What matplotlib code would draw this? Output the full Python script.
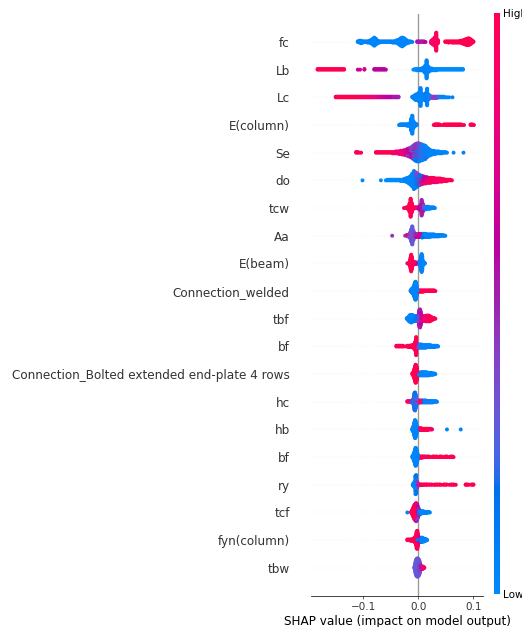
import numpy as np
import matplotlib
matplotlib.use("Agg")
import matplotlib.pyplot as plt
from matplotlib.colors import LinearSegmentedColormap

# Features from top (most important) to bottom
features = ["fc", "Lb", "Lc", "E(column)", "Se", "do", "tcw", "Aa", "E(beam)",
            "Connection_welded", "tbf", "bf", "Connection_Bolted extended end-plate 4 rows",
            "hc", "hb", "bf", "ry", "tcf", "fyn(column)", "tbw"]

# Each entry: (SHAP value, normalised feature value, number of samples)
pts_fc = [(-0.110, 0.05, 2), (-0.107, 0.05, 4), (-0.104, 0.05, 5), (-0.101, 0.05, 3), (-0.098, 0.05, 2),
          (-0.095, 0.05, 2), (-0.092, 0.05, 3), (-0.089, 0.05, 4), (-0.086, 0.05, 6), (-0.083, 0.05, 10),
          (-0.080, 0.05, 14), (-0.077, 0.05, 10), (-0.074, 0.05, 5), (-0.071, 0.05, 3), (-0.068, 0.05, 2),
          (-0.065, 0.05, 2), (-0.062, 0.05, 2), (-0.059, 0.05, 2), (-0.056, 0.05, 2), (-0.053, 0.05, 2),
          (-0.050, 0.05, 2), (-0.047, 0.05, 3), (-0.044, 0.05, 3), (-0.041, 0.05, 4), (-0.038, 0.05, 6),
          (-0.035, 0.05, 9), (-0.032, 0.05, 13), (-0.029, 0.05, 15), (-0.026, 0.05, 12), (-0.023, 0.05, 8),
          (-0.020, 0.05, 5), (-0.017, 0.05, 3), (-0.014, 0.05, 2), (-0.011, 0.05, 1),
          (-0.002, 0.55, 2), (0.001, 0.55, 2), (0.004, 0.55, 2), (0.007, 0.55, 2), (0.010, 0.55, 2), (0.013, 0.6, 1),
          (0.0235, 0.85, 5), (0.0265, 0.9, 9), (0.0295, 0.95, 14), (0.0325, 0.95, 30), (0.0355, 0.95, 6),
          (0.049, 1, 2), (0.052, 1, 2), (0.055, 1, 3), (0.058, 1, 2), (0.061, 1, 3), (0.064, 1, 3),
          (0.067, 1, 3), (0.070, 1, 3), (0.073, 1, 3), (0.076, 1, 4), (0.079, 1, 5), (0.082, 1, 7),
          (0.085, 1, 9), (0.088, 1, 11), (0.091, 1, 12), (0.094, 1, 10), (0.097, 1, 6), (0.100, 1, 2)]

pts_Lb = [(-0.183, 1, 2), (-0.180, 1, 2), (-0.177, 1, 2), (-0.174, 1, 2), (-0.171, 1, 2), (-0.168, 1, 2),
          (-0.165, 1, 2), (-0.162, 1, 2), (-0.159, 1, 2), (-0.156, 1, 2), (-0.153, 1, 2), (-0.150, 1, 2),
          (-0.147, 1, 2), (-0.144, 1, 2), (-0.141, 1, 2), (-0.138, 1, 2), (-0.135, 1, 2),
          (-0.110, 0.65, 1), (-0.106, 0.65, 1), (-0.098, 0.7, 2),
          (-0.080, 0.6, 2), (-0.077, 0.6, 2), (-0.074, 0.6, 2), (-0.071, 0.6, 2), (-0.068, 0.6, 2),
          (-0.065, 0.6, 2), (-0.062, 0.6, 2), (-0.059, 0.6, 1),
          (-0.009, 0.0, 1), (-0.006, 0.0, 2), (-0.003, 0.0, 3), (0.000, 0.05, 3), (0.003, 0.05, 3),
          (0.006, 0.05, 4), (0.009, 0.05, 6), (0.012, 0.05, 12), (0.015, 0.05, 30), (0.018, 0.05, 10),
          (0.021, 0.05, 5), (0.024, 0.05, 4), (0.027, 0.0, 3), (0.030, 0.0, 3), (0.033, 0.0, 3),
          (0.036, 0.0, 2), (0.039, 0.0, 2), (0.042, 0.0, 2), (0.045, 0.0, 2), (0.048, 0.0, 2),
          (0.051, 0.0, 2), (0.054, 0.0, 2), (0.057, 0.0, 2), (0.060, 0.0, 2), (0.063, 0.0, 2),
          (0.066, 0.0, 2), (0.069, 0.0, 2), (0.072, 0.0, 2), (0.075, 0.0, 2), (0.078, 0.0, 2), (0.081, 0.0, 2)]

pts_Lc = [(-0.150, 1, 2), (-0.147, 1, 2), (-0.144, 1, 2), (-0.141, 1, 2), (-0.138, 1, 2), (-0.135, 1, 2),
          (-0.132, 1, 2), (-0.129, 1, 2), (-0.126, 1, 2), (-0.123, 1, 2), (-0.120, 1, 2), (-0.117, 1, 2),
          (-0.114, 1, 2), (-0.111, 1, 2), (-0.108, 0.95, 2), (-0.105, 0.95, 2), (-0.102, 0.95, 2),
          (-0.099, 0.9, 2), (-0.096, 0.9, 2), (-0.093, 0.9, 2), (-0.090, 0.85, 2), (-0.087, 0.85, 2),
          (-0.084, 0.85, 2), (-0.081, 0.8, 2), (-0.078, 0.8, 2), (-0.075, 0.75, 2), (-0.072, 0.7, 2),
          (-0.069, 0.7, 2), (-0.066, 0.65, 2), (-0.063, 0.65, 2), (-0.060, 0.6, 2), (-0.057, 0.6, 2),
          (-0.054, 0.6, 2), (-0.051, 0.6, 2), (-0.048, 0.55, 2), (-0.045, 0.55, 2), (-0.042, 0.55, 2),
          (-0.039, 0.55, 2), (-0.036, 0.5, 2),
          (-0.011, 0.05, 2), (-0.008, 0.05, 5), (-0.005, 0.05, 9), (-0.002, 0.05, 10), (0.001, 0.05, 14),
          (0.004, 0.05, 28), (0.007, 0.05, 10), (0.010, 0.05, 8), (0.013, 0.1, 12), (0.016, 0.05, 26),
          (0.019, 0.05, 8), (0.022, 0.3, 4), (0.025, 0.4, 3), (0.028, 0.5, 3), (0.031, 0.4, 3),
          (0.034, 0.3, 3), (0.037, 0.2, 2), (0.040, 0.05, 2), (0.043, 0.05, 2), (0.046, 0.05, 2),
          (0.049, 0.05, 1), (0.052, 0.05, 1), (0.056, 0.05, 1), (0.062, 0.05, 1)]

pts_Ecol = [(-0.035, 0.05, 1), (-0.033, 0.05, 2), (-0.031, 0.05, 2), (-0.029, 0.05, 2), (-0.027, 0.05, 2),
            (-0.025, 0.05, 2), (-0.023, 0.05, 2), (-0.021, 0.05, 3), (-0.019, 0.05, 3), (-0.017, 0.05, 4),
            (-0.015, 0.05, 6), (-0.013, 0.05, 20), (-0.011, 0.05, 30), (-0.009, 0.05, 12), (-0.007, 0.05, 6),
            (-0.005, 0.05, 4), (-0.003, 0.05, 2),
            (0.028, 1, 1), (0.030, 1, 2), (0.032, 1, 2), (0.034, 1, 2), (0.036, 1, 2), (0.038, 1, 2),
            (0.040, 1, 1), (0.044, 1, 1), (0.047, 1, 2), (0.050, 1, 2), (0.053, 1, 2), (0.056, 1, 2),
            (0.059, 1, 2), (0.062, 1, 2), (0.065, 1, 2), (0.068, 1, 2), (0.071, 1, 2), (0.074, 1, 2),
            (0.077, 1, 2), (0.080, 1, 1), (0.083, 0.9, 1), (0.095, 1, 2), (0.098, 1, 2), (0.101, 1, 1)]

pts_Se = [(-0.113, 1, 2), (-0.110, 1, 2), (-0.107, 1, 1), (-0.104, 1, 1),
          (-0.077, 1, 2), (-0.074, 1, 2), (-0.071, 1, 2), (-0.068, 1, 2), (-0.065, 1, 2), (-0.062, 1, 2),
          (-0.059, 1, 2), (-0.056, 1, 2), (-0.053, 1, 2), (-0.050, 1, 2), (-0.047, 0.9, 3), (-0.044, 0.9, 3),
          (-0.041, 0.9, 4), (-0.038, 0.85, 4), (-0.035, 0.8, 5), (-0.032, 0.85, 6), (-0.029, 0.8, 7),
          (-0.026, 0.75, 8), (-0.023, 0.7, 9), (-0.020, 0.65, 8), (-0.020, 0.45, 4), (-0.017, 0.6, 8),
          (-0.017, 0.45, 6), (-0.014, 0.55, 8), (-0.014, 0.4, 8), (-0.011, 0.5, 10), (-0.011, 0.35, 10),
          (-0.008, 0.45, 14), (-0.008, 0.2, 10), (-0.005, 0.45, 16), (-0.005, 0.15, 12), (-0.002, 0.4, 16),
          (-0.002, 0.1, 14), (0.001, 0.4, 15), (0.001, 0.05, 15), (0.004, 0.35, 12), (0.004, 0.05, 16),
          (0.007, 0.3, 10), (0.007, 0.05, 16), (0.010, 0.25, 8), (0.010, 0.05, 16), (0.013, 0.2, 6),
          (0.013, 0.05, 16), (0.016, 0.05, 16), (0.019, 0.05, 12), (0.022, 0.05, 9), (0.025, 0.05, 7),
          (0.028, 0.05, 6), (0.031, 0.05, 5), (0.034, 0.05, 4), (0.037, 0.05, 4), (0.040, 0.05, 3),
          (0.043, 0.05, 3), (0.046, 0.05, 2), (0.049, 0.05, 2), (0.052, 0.05, 1), (0.064, 0.05, 1),
          (0.082, 0.05, 1)]

pts_do = [(-0.1015, 0.0, 1), (-0.068, 0.0, 1), (-0.059, 0.0, 1), (-0.056, 0.0, 2), (-0.053, 0.0, 2),
          (-0.050, 0.0, 2), (-0.047, 0.0, 2), (-0.044, 0.0, 2), (-0.041, 0.0, 2), (-0.038, 0.0, 2),
          (-0.035, 0.0, 2), (-0.032, 0.0, 3), (-0.029, 0.05, 3), (-0.026, 0.05, 4), (-0.023, 0.05, 6),
          (-0.020, 0.05, 8), (-0.017, 0.05, 11), (-0.014, 0.05, 15), (-0.011, 0.05, 22), (-0.008, 0.05, 30),
          (-0.005, 0.1, 20), (-0.005, 0.35, 6), (-0.002, 0.15, 12), (-0.002, 0.4, 10),
          (0.001, 0.45, 12), (0.001, 0.1, 6), (0.004, 0.5, 12), (0.004, 0.15, 4), (0.007, 0.55, 10),
          (0.007, 0.8, 4), (0.010, 0.6, 8), (0.010, 0.85, 4), (0.013, 0.6, 6), (0.013, 0.9, 5),
          (0.016, 0.7, 5), (0.016, 0.95, 5), (0.019, 0.75, 4), (0.019, 1, 5), (0.022, 0.8, 4),
          (0.022, 1, 5), (0.025, 0.85, 4), (0.025, 1, 4), (0.028, 0.6, 3), (0.028, 1, 5), (0.031, 0.9, 7),
          (0.034, 0.9, 7), (0.037, 0.9, 6), (0.040, 0.95, 6), (0.043, 0.95, 5), (0.046, 0.95, 4),
          (0.049, 1, 3), (0.052, 1, 3), (0.055, 1, 2), (0.058, 1, 2), (0.061, 1, 1)]

pts_tcw = [(-0.026, 1, 1), (-0.022, 1, 2), (-0.020, 1, 3), (-0.018, 1, 4), (-0.016, 1, 14), (-0.014, 1, 30),
           (-0.012, 1, 16), (-0.010, 1, 5), (-0.008, 0.9, 3), (-0.006, 0.9, 2), (-0.004, 0.8, 2),
           (-0.002, 0.7, 2), (0.000, 0.6, 3), (0.002, 0.6, 4), (0.004, 0.55, 10), (0.006, 0.5, 18),
           (0.006, 0.85, 8), (0.008, 0.55, 14), (0.010, 0.3, 6), (0.012, 0.1, 5), (0.014, 0.05, 5),
           (0.016, 0.05, 4), (0.018, 0.05, 4), (0.020, 0.05, 3), (0.022, 0.05, 3), (0.024, 0.05, 2),
           (0.026, 0.05, 2), (0.028, 0.05, 2), (0.030, 0.05, 1)]

pts_Aa = [(-0.0475, 0.45, 1), (-0.024, 0.4, 1), (-0.021, 0.8, 2), (-0.019, 0.35, 3), (-0.017, 0.35, 5),
          (-0.015, 0.35, 10), (-0.013, 0.3, 20), (-0.011, 0.3, 30), (-0.009, 0.35, 16), (-0.007, 0.4, 8),
          (-0.005, 0.5, 6), (-0.003, 0.6, 5), (-0.001, 0.65, 5), (0.001, 0.55, 6), (0.003, 0.7, 6),
          (0.005, 0.3, 6), (0.007, 0.15, 7), (0.009, 0.1, 6), (0.011, 0.05, 6), (0.013, 0.05, 6),
          (0.015, 0.05, 5), (0.017, 0.05, 5), (0.019, 0.05, 5), (0.021, 0.05, 5), (0.023, 0.05, 4),
          (0.025, 0.05, 4), (0.027, 0.05, 4), (0.029, 0.05, 4), (0.031, 0.05, 3), (0.033, 0.05, 3),
          (0.035, 0.05, 3), (0.037, 0.05, 3), (0.039, 0.05, 2), (0.041, 0.05, 2), (0.043, 0.05, 2),
          (0.045, 0.05, 2), (0.047, 0.05, 1), (0.049, 0.05, 1)]

pts_Ebeam = [(-0.020, 0.7, 1), (-0.017, 1, 3), (-0.016, 1, 5), (-0.015, 1, 10), (-0.014, 1, 18),
             (-0.013, 1, 26), (-0.012, 1, 20), (-0.011, 1, 10), (-0.010, 1, 6), (-0.009, 1, 5),
             (-0.008, 0.9, 4), (-0.007, 0.9, 4), (-0.006, 0.8, 3), (-0.005, 0.7, 3), (-0.004, 0.6, 2),
             (-0.003, 0.5, 2), (-0.002, 0.5, 2), (-0.001, 0.3, 2), (0.000, 0.2, 2), (0.001, 0.1, 3),
             (0.002, 0.05, 4), (0.003, 0.05, 6), (0.004, 0.05, 12), (0.005, 0.05, 22), (0.006, 0.05, 28),
             (0.007, 0.05, 22), (0.008, 0.05, 8), (0.009, 0.05, 5), (0.010, 0.05, 3), (0.011, 0.05, 2),
             (0.012, 0.05, 1)]

pts_welded = [(-0.014, 0.05, 2), (-0.013, 0.05, 4), (-0.012, 0.05, 6), (-0.011, 0.05, 8), (-0.010, 0.05, 10),
              (-0.009, 0.05, 12), (-0.008, 0.05, 16), (-0.007, 0.05, 22), (-0.006, 0.05, 28), (-0.005, 0.05, 30),
              (-0.004, 0.05, 26), (-0.003, 0.05, 16), (-0.002, 0.05, 6), (-0.001, 0.05, 2),
              (0.001, 1, 3), (0.003, 1, 3), (0.005, 1, 3), (0.007, 1, 3), (0.009, 1, 3), (0.011, 1, 2),
              (0.013, 1, 2), (0.015, 1, 2), (0.017, 1, 2), (0.019, 1, 2), (0.021, 1, 2), (0.023, 1, 2),
              (0.025, 1, 2), (0.027, 1, 2), (0.029, 1, 2), (0.031, 1, 1)]

pts_tbf = [(-0.021, 0.05, 2), (-0.019, 0.05, 5), (-0.017, 0.05, 9), (-0.015, 0.05, 12), (-0.013, 0.05, 13),
           (-0.011, 0.05, 12), (-0.009, 0.05, 10), (-0.007, 0.1, 9), (-0.005, 0.15, 8), (-0.003, 0.2, 8),
           (-0.001, 0.4, 10), (0.001, 0.55, 20), (0.002, 0.55, 28), (0.003, 0.55, 30), (0.004, 0.6, 24),
           (0.005, 0.65, 14), (0.007, 0.75, 9), (0.009, 0.8, 8), (0.011, 0.85, 8), (0.013, 0.9, 9),
           (0.015, 0.9, 10), (0.017, 0.95, 10), (0.019, 0.95, 10), (0.021, 1, 9), (0.023, 1, 7),
           (0.025, 1, 5), (0.027, 1, 3), (0.029, 1, 2), (0.031, 1, 1)]

pts_bf_a = [(-0.040, 1, 2), (-0.038, 1, 2), (-0.036, 1, 2), (-0.034, 1, 2), (-0.032, 1, 2), (-0.030, 1, 2),
            (-0.028, 1, 2), (-0.026, 1, 1), (-0.022, 1, 1), (-0.020, 1, 2), (-0.018, 1, 3), (-0.016, 1, 3),
            (-0.014, 1, 3), (-0.012, 1, 4), (-0.010, 1, 5), (-0.008, 1, 7), (-0.006, 1, 14), (-0.004, 1, 30),
            (-0.002, 0.8, 8), (0.000, 0.3, 5), (0.002, 0.05, 6), (0.004, 0.05, 6), (0.006, 0.05, 6),
            (0.008, 0.05, 5), (0.010, 0.05, 5), (0.012, 0.05, 5), (0.014, 0.05, 5), (0.016, 0.05, 4),
            (0.018, 0.05, 4), (0.020, 0.05, 4), (0.022, 0.05, 4), (0.024, 0.05, 3), (0.026, 0.05, 3),
            (0.028, 0.05, 3), (0.030, 0.05, 3), (0.032, 0.05, 2), (0.034, 0.05, 2), (0.036, 0.05, 1)]

pts_bolted = [(-0.011, 1, 2), (-0.010, 1, 4), (-0.009, 1, 7), (-0.008, 1, 12), (-0.007, 1, 18), (-0.006, 1, 24),
              (-0.005, 1, 30), (-0.004, 1, 28), (-0.003, 1, 22), (-0.002, 1, 12), (-0.001, 1, 5),
              (0.001, 0.05, 3), (0.003, 0.05, 5), (0.005, 0.05, 6), (0.007, 0.05, 6), (0.009, 0.05, 6),
              (0.011, 0.05, 6), (0.013, 0.05, 6), (0.015, 0.05, 6), (0.017, 0.05, 5), (0.019, 0.05, 5),
              (0.021, 0.05, 4), (0.023, 0.05, 4), (0.025, 0.05, 3), (0.027, 0.05, 3), (0.029, 0.05, 2),
              (0.031, 0.05, 1)]

pts_hc = [(-0.020, 0.9, 2), (-0.018, 0.9, 2), (-0.016, 0.9, 2), (-0.014, 0.8, 2), (-0.012, 0.2, 3),
          (-0.010, 0.2, 6), (-0.009, 0.2, 10), (-0.008, 0.2, 18), (-0.007, 0.15, 28), (-0.006, 0.2, 30),
          (-0.005, 0.2, 24), (-0.004, 0.2, 14), (-0.003, 0.3, 8), (-0.002, 0.9, 4), (0.000, 0.9, 5),
          (0.002, 0.1, 4), (0.004, 0.9, 4), (0.006, 0.9, 4), (0.008, 0.1, 4), (0.010, 0.3, 4),
          (0.012, 0.05, 4), (0.014, 0.05, 4), (0.016, 0.05, 3), (0.018, 0.8, 3), (0.020, 0.05, 3),
          (0.022, 0.05, 3), (0.024, 0.05, 3), (0.026, 0.05, 3), (0.028, 0.05, 2), (0.030, 0.05, 2),
          (0.032, 0.05, 2), (0.034, 0.05, 1)]

pts_hb = [(-0.011, 0.05, 3), (-0.010, 0.05, 6), (-0.009, 0.05, 10), (-0.008, 0.05, 16), (-0.007, 0.05, 24),
          (-0.006, 0.05, 30), (-0.005, 0.05, 28), (-0.004, 0.05, 20), (-0.003, 0.05, 12), (-0.002, 0.05, 6),
          (-0.001, 0.1, 3), (0.001, 1, 4), (0.003, 1, 4), (0.005, 1, 4), (0.007, 1, 3), (0.009, 1, 3),
          (0.011, 1, 3), (0.013, 1, 3), (0.015, 1, 3), (0.017, 1, 3), (0.019, 1, 2), (0.021, 1, 2),
          (0.023, 0.9, 2), (0.025, 0.8, 1), (0.052, 0.05, 1), (0.077, 0.05, 1)]

pts_bf_b = [(-0.011, 0.05, 2), (-0.010, 0.05, 4), (-0.009, 0.05, 8), (-0.008, 0.05, 12), (-0.007, 0.05, 18),
            (-0.006, 0.05, 24), (-0.005, 0.05, 30), (-0.004, 0.05, 28), (-0.003, 0.05, 22), (-0.002, 0.05, 14),
            (-0.001, 0.05, 8), (0.000, 0.1, 4), (0.001, 0.2, 2), (0.003, 1, 3), (0.005, 1, 3), (0.007, 1, 3),
            (0.009, 1, 2), (0.011, 1, 2), (0.013, 0.9, 2), (0.016, 1, 2), (0.019, 1, 2), (0.022, 1, 1),
            (0.026, 1, 2), (0.029, 1, 2), (0.033, 1, 2), (0.036, 1, 1), (0.039, 1, 2), (0.042, 1, 2),
            (0.046, 1, 1), (0.049, 1, 2), (0.052, 1, 2), (0.056, 1, 1), (0.059, 1, 2), (0.062, 1, 2),
            (0.064, 1, 1)]

pts_ry = [(-0.010, 0.05, 3), (-0.009, 0.05, 6), (-0.008, 0.05, 10), (-0.007, 0.05, 16), (-0.006, 0.05, 22),
          (-0.005, 0.1, 28), (-0.004, 0.15, 30), (-0.003, 0.3, 24), (-0.002, 0.45, 16), (-0.001, 0.5, 8),
          (0.001, 0.8, 4), (0.004, 1, 3), (0.007, 1, 3), (0.010, 1, 2), (0.013, 1, 2), (0.016, 1, 2),
          (0.020, 1, 2), (0.024, 1, 2), (0.028, 1, 1), (0.031, 1, 2), (0.035, 1, 2), (0.039, 1, 2),
          (0.043, 1, 1), (0.047, 1, 2), (0.051, 1, 2), (0.056, 1, 1), (0.060, 1, 2), (0.064, 1, 2),
          (0.068, 1, 1), (0.086, 1, 2), (0.089, 1, 2), (0.092, 1, 1), (0.097, 1, 2), (0.100, 1, 2)]

pts_tcf = [(-0.020, 0.05, 1), (-0.013, 1, 2), (-0.012, 1, 4), (-0.011, 1, 8), (-0.010, 1, 12), (-0.009, 1, 16),
           (-0.008, 1, 20), (-0.007, 0.9, 24), (-0.006, 0.9, 20), (-0.006, 0.55, 6), (-0.005, 0.85, 20),
           (-0.005, 0.5, 8), (-0.004, 0.8, 22), (-0.004, 0.5, 8), (-0.003, 0.7, 20), (-0.003, 0.45, 8),
           (-0.002, 0.6, 18), (-0.002, 0.4, 6), (-0.001, 0.55, 18), (0.000, 0.5, 14), (0.001, 0.1, 10),
           (0.002, 0.05, 8), (0.003, 0.05, 6), (0.004, 0.05, 5), (0.005, 0.05, 5), (0.007, 0.05, 4),
           (0.009, 0.05, 4), (0.011, 0.05, 3), (0.013, 0.05, 3), (0.015, 0.05, 3), (0.017, 0.05, 2),
           (0.019, 0.05, 2), (0.021, 0.05, 1)]

pts_fyn = [(-0.020, 1, 2), (-0.018, 1, 2), (-0.016, 1, 2), (-0.014, 1, 3), (-0.012, 1, 3), (-0.010, 1, 4),
           (-0.008, 1, 6), (-0.006, 0.95, 10), (-0.005, 0.1, 6), (-0.004, 1, 18), (-0.003, 1, 28),
           (-0.002, 1, 30), (-0.001, 0.9, 22), (0.000, 0.7, 12), (0.001, 0.1, 6), (0.003, 0.05, 7),
           (0.005, 0.05, 8), (0.007, 0.05, 8), (0.009, 0.05, 6), (0.011, 0.05, 5), (0.013, 0.05, 4),
           (0.015, 0.05, 2), (0.016, 0.05, 1)]

pts_tbw = [(-0.007, 0.3, 4), (-0.006, 0.3, 10), (-0.005, 0.3, 20), (-0.004, 0.3, 26), (-0.003, 0.3, 28),
           (-0.002, 0.35, 30), (-0.001, 0.35, 30), (0.000, 0.3, 28), (0.001, 0.3, 26), (0.002, 0.35, 22),
           (0.003, 0.4, 14), (0.004, 0.5, 8), (0.005, 0.7, 6), (0.006, 0.8, 5), (0.007, 0.85, 5),
           (0.008, 0.9, 4), (0.009, 0.9, 3), (0.010, 0.9, 2), (0.011, 0.85, 1)]

rows = [pts_fc, pts_Lb, pts_Lc, pts_Ecol, pts_Se, pts_do, pts_tcw, pts_Aa, pts_Ebeam, pts_welded,
        pts_tbf, pts_bf_a, pts_bolted, pts_hc, pts_hb, pts_bf_b, pts_ry, pts_tcf, pts_fyn, pts_tbw]


# ---- red/blue colour map interpolated in LCH space ----
def lch2rgb(l, c, h):
    a, b = c * np.cos(h), c * np.sin(h)
    fy = (l + 16.0) / 116.0
    fx = fy + a / 500.0
    fz = fy - b / 200.0

    def finv(t):
        return np.where(t ** 3 > 0.008856, t ** 3, (t - 16.0 / 116.0) / 7.787)

    xyz = np.array([0.95047 * finv(fx), 1.0 * finv(fy), 1.08883 * finv(fz)])
    m = np.array([[3.2404542, -1.5371385, -0.4985314],
                  [-0.9692660, 1.8760108, 0.0415560],
                  [0.0556434, -0.2040259, 1.0572252]])
    rgb = m @ xyz
    rgb = np.where(rgb > 0.0031308, 1.055 * np.power(np.clip(rgb, 0, None), 1 / 2.4) - 0.055, 12.92 * rgb)
    return np.clip(rgb, 0, 1)


blue_lch = [54.0, 70.0, 4.6588]
red_lch = [54.0, 90.0, 0.35470565 + 2 * np.pi]
nsteps = 100
l_vals = list(np.linspace(blue_lch[0], 40.0, nsteps // 2)) + list(np.linspace(40.0, red_lch[0], nsteps // 2))
c_vals = np.linspace(blue_lch[1], red_lch[1], nsteps)
h_vals = np.linspace(blue_lch[2], red_lch[2], nsteps)
cm_colors = [lch2rgb(l, c, h) for l, c, h in zip(l_vals, c_vals, h_vals)]
red_blue = LinearSegmentedColormap.from_list("red_blue", cm_colors)


def swarm(points, nbins=100, row_height=0.4):
    shaps = np.array([p[0] for p in points for _ in range(p[2])], dtype=float)
    vals = np.array([p[1] for p in points for _ in range(p[2])], dtype=float)
    n = len(shaps)
    # deterministic interleaving so stacked colours mix
    perm = np.argsort((np.arange(n) * 0.6180339887) % 1.0)
    shaps, vals = shaps[perm], vals[perm]
    quant = np.round(nbins * (shaps - shaps.min()) / (shaps.max() - shaps.min() + 1e-8))
    order = np.argsort(quant, kind="stable")
    ys = np.zeros(n)
    layer, last_bin = 0, -1
    for ind in order:
        if quant[ind] != last_bin:
            layer = 0
        ys[ind] = np.ceil(layer / 2) * ((layer % 2) * 2 - 1)
        layer += 1
        last_bin = quant[ind]
    ys *= 0.9 * (row_height / np.max(ys + 1))
    return shaps, ys, vals


dpi = 65
fig = plt.figure(figsize=(522 / dpi, 627 / dpi), dpi=dpi)
ax = fig.add_axes([311 / 522, 1 - 595.5 / 627, 172.3 / 522, 581.2 / 627])

nfeat = len(features)
ax.axvline(x=0, color="#999999", zorder=-1)
for i, pts in enumerate(rows):
    pos = nfeat - 1 - i
    ax.axhline(y=pos, color="#cccccc", lw=0.5, dashes=(1, 5), zorder=-1)
    xs, ys, vals = swarm(pts)
    ax.scatter(xs, pos + ys, c=vals, cmap=red_blue, vmin=0, vmax=1, s=19,
               linewidth=0, alpha=1, zorder=3, rasterized=True)

ax.set_xlim(-0.195, 0.118)
ax.set_ylim(-1, nfeat)
ax.set_yticks(range(nfeat))
ax.set_yticklabels(features[::-1], fontsize=13.3)
ax.set_xticks([-0.1, 0.0, 0.1])
ax.set_xticklabels(["\u22120.1", "0.0", "0.1"])
ax.xaxis.set_ticks_position("bottom")
ax.yaxis.set_ticks_position("none")
for s in ("right", "top", "left"):
    ax.spines[s].set_visible(False)
ax.tick_params(color="#333333", labelcolor="#333333")
ax.tick_params("y", length=20, width=0.5, which="major")
ax.tick_params("x", labelsize=11.5)
ax.set_xlabel("SHAP value (impact on model output)", fontsize=13.3)

cax = fig.add_axes([494 / 522, 1 - 594 / 627, 6 / 522, 581 / 627])
sm = plt.cm.ScalarMappable(cmap=red_blue, norm=plt.Normalize(0, 1))
cb = fig.colorbar(sm, cax=cax, ticks=[0, 1])
cb.set_ticklabels(["Low", "High"])
cb.ax.tick_params(labelsize=11.5, length=0)
cb.outline.set_visible(False)

fig.savefig("out.png", dpi=dpi)
